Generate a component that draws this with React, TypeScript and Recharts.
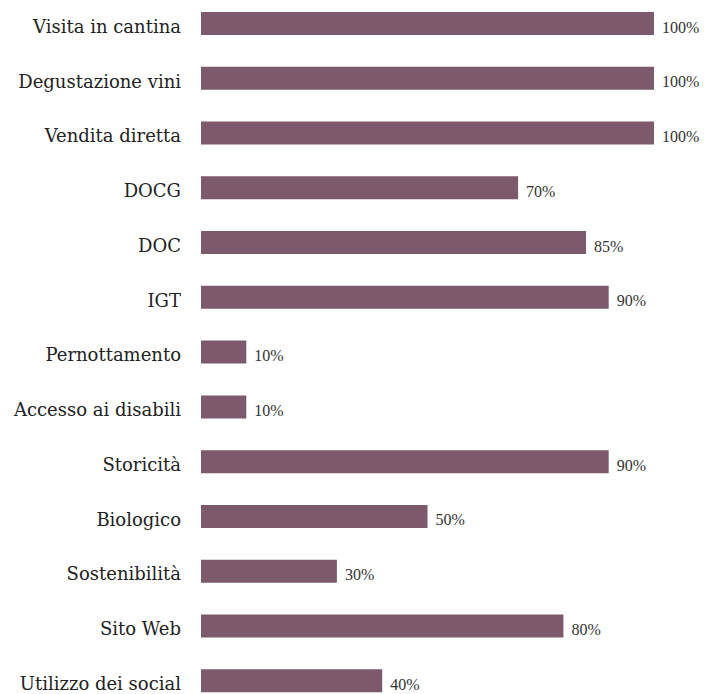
import { BarChart, Bar, XAxis, YAxis, LabelList } from 'recharts';

const categories = [
  'Visita in cantina',
  'Degustazione vini',
  'Vendita diretta',
  'DOCG',
  'DOC',
  'IGT',
  'Pernottamento',
  'Accesso ai disabili',
  'Storicità',
  'Biologico',
  'Sostenibilità',
  'Sito Web',
  'Utilizzo dei social',
];
const percentages = [100, 100, 100, 70, 85, 90, 10, 10, 90, 50, 30, 80, 40];

const BAR_COLOR = '#7d5a6b';
const LABEL_FONT = '"DejaVu Serif", "Liberation Serif", serif';
const VALUE_FONT = '"Liberation Serif", "DejaVu Serif", serif';

const data = categories.map((name, i) => ({ name, value: percentages[i] }));

// value label sits just past the bar end, a little below the centre line
const ValueLabel = (props: any) => {
  const { x, y, width, height, value } = props;
  return (
    <text
      x={x + width + 8}
      y={y + height / 2 + 9}
      fill="#333"
      fontSize={16}
      fontFamily={VALUE_FONT}
    >
      {value}%
    </text>
  );
};

export default function App() {
  return (
    <div style={{ position: 'fixed', left: 0, top: 0, width: 708, height: 694, overflow: 'hidden', background: '#fff' }}>
      <div style={{ position: 'absolute', left: 0, top: -4 }}>
        <BarChart
          width={708}
          height={712}
          data={data}
          layout="vertical"
          margin={{ top: 0, right: 54, left: 0, bottom: 0 }}
        >
          <XAxis type="number" domain={[0, 100]} hide />
          <YAxis
            type="category"
            dataKey="name"
            width={201}
            axisLine={false}
            tickLine={false}
            tickSize={0}
            tickMargin={20}
            interval={0}
            tick={{ fill: '#222', fontSize: 18, fontFamily: LABEL_FONT, dy: 3 }}
          />
          <Bar dataKey="value" fill={BAR_COLOR} barSize={23} isAnimationActive={false}>
            <LabelList dataKey="value" content={ValueLabel} />
          </Bar>
        </BarChart>
      </div>
    </div>
  );
}
